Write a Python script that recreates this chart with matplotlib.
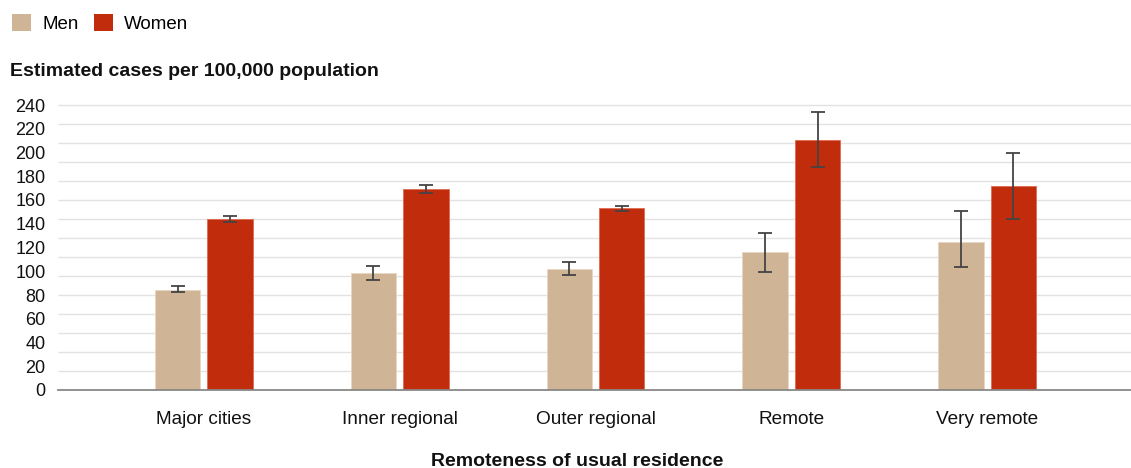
import numpy as np
import matplotlib
matplotlib.use("Agg")
import matplotlib.pyplot as plt
from matplotlib.patches import Patch

plt.rcParams['font.family'] = ['Liberation Sans', 'DejaVu Sans']

# data
categories = ["Major cities", "Inner regional", "Outer regional", "Remote", "Very remote"]
men = [84.5, 98.5, 102.0, 116.0, 124.5]
men_lo = [82.2, 92.9, 96.8, 99.0, 103.8]
men_hi = [87.2, 104.1, 108.0, 132.2, 150.4]
women = [144.3, 169.5, 153.0, 210.8, 171.5]
women_lo = [141.5, 165.9, 150.7, 188.0, 144.0]
women_hi = [146.8, 172.3, 155.2, 234.1, 199.6]
y_labels = np.arange(0, 241, 20)
grid_vals = np.arange(16, 241, 16)  # the source's gridlines don't sit on the labels

MEN_COL = '#CFB595'
WOMEN_COL = '#C12C0C'

fig = plt.figure(figsize=(11.31, 4.68), dpi=100)
# plot area: baseline at y=390px, 1.1875 px per unit
ax = fig.add_axes([58 / 1131, 1 - 390 / 468, 1 - 58 / 1131, 241 * 1.1875 / 468])

x = np.arange(len(categories))
w = 0.232
off = 0.134

men = np.array(men)
women = np.array(women)
men_err = [men - np.array(men_lo), np.array(men_hi) - men]
women_err = [women - np.array(women_lo), np.array(women_hi) - women]

ax.hlines(grid_vals, 0, 1, transform=ax.get_yaxis_transform(),
          color='#e2e2e2', linewidth=1.0, zorder=0)
ax.bar(x - off, men, w, color=MEN_COL, edgecolor='#e6d6c2', linewidth=0.6, zorder=2)
ax.bar(x + off, women, w, color=WOMEN_COL, edgecolor='#e06a50', linewidth=0.6, zorder=2)
ax.errorbar(x - off, men, yerr=men_err, fmt='none', ecolor='#444444',
            elinewidth=1.3, capsize=5, capthick=1.3, zorder=3)
ax.errorbar(x + off, women, yerr=women_err, fmt='none', ecolor='#444444',
            elinewidth=1.3, capsize=5, capthick=1.3, zorder=3)

ax.set_xlim(-0.745, 4.735)
ax.set_ylim(0, 241)

ax.set_yticks(y_labels)
ax.tick_params(axis='y', length=0, pad=9, labelsize=13, labelcolor='#111111')

ax.set_xticks(x)
ax.set_xticklabels(categories)
ax.tick_params(axis='x', length=0, pad=15, labelsize=13.7, labelcolor='#111111')

for s in ['top', 'right', 'left']:
    ax.spines[s].set_visible(False)
ax.spines['bottom'].set_color('#888888')
ax.spines['bottom'].set_linewidth(1.3)

fig.text(577 / 1131, 1 - 461 / 468, "Remoteness of usual residence", fontsize=14,
         fontweight='bold', ha='center', va='center', color='#111111')
fig.text(10 / 1131, 1 - 71 / 468, "Estimated cases per 100,000 population",
         fontsize=14, fontweight='bold', va='center', ha='left', color='#111111')

handles = [Patch(facecolor=MEN_COL, label='Men'), Patch(facecolor=WOMEN_COL, label='Women')]
fig.legend(handles=handles, loc='upper left', bbox_to_anchor=(12 / 1131, 1 - 14 / 468),
           ncol=2, frameon=False, fontsize=13.5, handlelength=1.0, handleheight=1.0,
           handletextpad=0.6, columnspacing=0.85, borderpad=0, borderaxespad=0)

fig.savefig("out.png", dpi=100)
